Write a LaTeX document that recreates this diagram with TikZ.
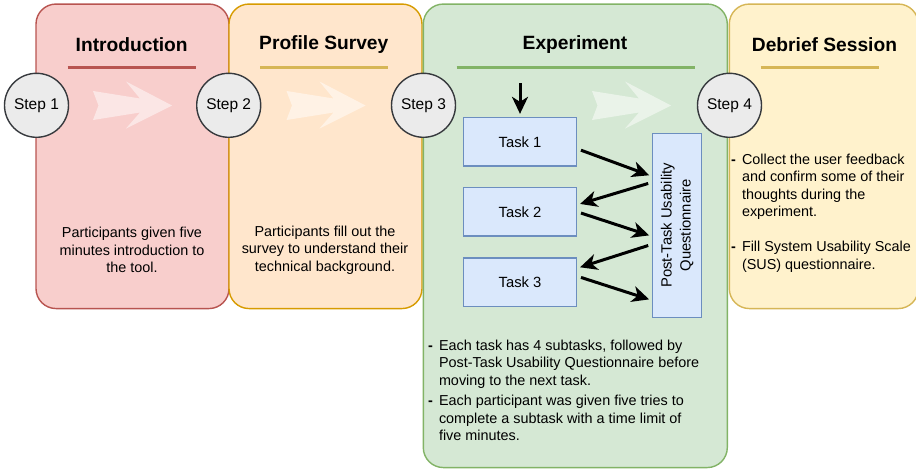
\documentclass[tikz,border=0pt]{standalone}
\usepackage{fontspec}
\setmainfont{Liberation Sans}
\usetikzlibrary{arrows.meta, calc}
\definecolor{introfill}{HTML}{F8CECC}
\definecolor{introline}{HTML}{B85450}
\definecolor{surveyfill}{HTML}{FFE6CC}
\definecolor{surveyline}{HTML}{D79B00}
\definecolor{expfill}{HTML}{D5E8D4}
\definecolor{expline}{HTML}{82B366}
\definecolor{debrieffill}{HTML}{FFF2CC}
\definecolor{debriefline}{HTML}{D6B656}
\definecolor{taskfill}{HTML}{DAE8FC}
\definecolor{taskline}{HTML}{6C8EBF}
\definecolor{stepfill}{HTML}{EBEBEB}
\definecolor{stepline}{HTML}{36393D}
\newcommand{\bodyfont}{\fontsize{14.4}{17.5}\selectfont}

\begin{document}
\begin{tikzpicture}[x=1pt, y=-1pt,
  panel/.style={draw, line width=1.4pt, rounded corners=20pt, inner sep=0pt},
  title/.style={font=\fontsize{19.2}{22}\selectfont\bfseries},
  rule/.style={line width=3pt},
  stepnode/.style={circle, draw=stepline, fill=stepfill, line width=1.4pt,
    minimum size=64pt, inner sep=0pt, font=\fontsize{15.5}{18}\selectfont},
  task/.style={draw=taskline, fill=taskfill, line width=1.4pt, inner sep=0pt,
    font=\fontsize{14.8}{17.5}\selectfont},
  notes/.style={inner sep=0pt, align=center, font=\bodyfont},
  flow/.style={-{Stealth[length=17pt, width=16pt, inset=5pt]}, line width=3pt,
    shorten <=4pt, shorten >=3pt},
  chevron/.style={fill=white, opacity=0.5}
]
  \useasboundingbox (0,0) rectangle (916,469);

  % Phase panels
  \node[panel, fill=introfill, draw=introline, minimum width=193pt, minimum height=304.5pt]
    (intro) at (132.5,156.3) {};
  \node[panel, fill=surveyfill, draw=surveyline, minimum width=193pt, minimum height=304.5pt]
    (survey) at (325.5,156.3) {};
  \node[panel, fill=expfill, draw=expline, minimum width=304pt, minimum height=463.5pt]
    (exp) at (575.3,235.8) {};
  \node[panel, fill=debrieffill, draw=debriefline, minimum width=189pt, minimum height=304.5pt]
    (debrief) at (823.8,156.3) {};

  % Titles and rules
  \node[title] (introtitle) at (131.7,44.5) {Introduction};
  \node[title] (surveytitle) at (323.8,44.5) {Profile Survey};
  \node[title] (exptitle) at (575,44.5) {Experiment};
  \node[title] (debrieftitle) at (824.5,44.5) {Debrief Session};
  \draw[rule, introline] (67.7,67.3) -- (195.7,67.3);
  \draw[rule, debriefline] (260,67.3) -- (387.7,67.3);
  \draw[rule, expline] (456.7,67.3) -- (695,67.3);
  \draw[rule, debriefline] (760.7,67.3) -- (879.3,67.3);

  % Faint direction arrows
  \foreach \ax in {93, 286.5, 592}
    \fill[chevron] (\ax,91) -- ++(47,7.5) -- ++(-14,-17) -- ++(46,24)
      -- ++(-46,23) -- ++(14,-16) -- ++(-47,7.5) -- ++(5.5,-14.5) -- cycle;

  % Step circles
  \foreach \sx/\sn in {36.5/1, 228.7/2, 423.5/3, 729.5/4}
    \node[stepnode] (step\sn) at (\sx,105.3) {Step \sn};

  % Body texts
  \node[notes] (introtext) at (132,250)
    {Participants given five\\minutes introduction to\\the tool.};
  \node[notes] (surveytext) at (325,250)
    {Participants fill out the\\survey to understand their\\technical background.};

  % Task loop
  \node[task, minimum width=113pt, minimum height=48.5pt] (t1) at (520,141.8) {Task 1};
  \node[task, minimum width=113pt, minimum height=48.5pt] (t2) at (520,211.8) {Task 2};
  \node[task, minimum width=113pt, minimum height=48.5pt] (t3) at (520,282.2) {Task 3};
  \node[task, minimum width=49pt, minimum height=184pt] (ptq) at (677.2,225.3) {};
  \node[notes, rotate=90, font=\fontsize{14.8}{19}\selectfont] (ptqtext) at (ptq.center)
    {Post-Task Usability\\Questionnaire};
  \coordinate (start) at (520,83);
  \draw[flow, shorten <=0pt] (start) -- (t1.north);
  \draw[flow] ([yshift=-7pt]t1.east) -- ([yshift=49pt]ptq.west);
  \draw[flow] ([yshift=43pt]ptq.west) -- ([yshift=7pt]t2.east);
  \draw[flow] (t2.east) -- ([yshift=-11pt]ptq.west);
  \draw[flow] ([yshift=-19pt]ptq.west) -- ([yshift=14pt]t3.east);
  \draw[flow] ([yshift=6pt]t3.east) -- ([yshift=-75pt]ptq.west);

  % Bullet notes
  \node[notes, anchor=north west, align=left] (expnotes) at (428,338) {%
    \begin{tabular}{@{}l@{\hspace{6pt}}l@{}}
      \textbf{-} & Each task has 4 subtasks, followed by\\
        & Post-Task Usability Questionnaire before\\
        & moving to the next task.\\[3pt]
      \textbf{-} & Each participant was given five tries to\\
        & complete a subtask with a time limit of\\
        & five minutes.
    \end{tabular}};
  \node[notes, anchor=north west, align=left] (debriefnotes) at (731,152) {%
    \begin{tabular}{@{}l@{\hspace{6pt}}l@{}}
      \textbf{-} & Collect the user feedback\\
        & and confirm some of their\\
        & thoughts during the\\
        & experiment.\\[17.5pt]
      \textbf{-} & Fill System Usability Scale\\
        & (SUS) questionnaire.
    \end{tabular}};
\end{tikzpicture}
\end{document}
